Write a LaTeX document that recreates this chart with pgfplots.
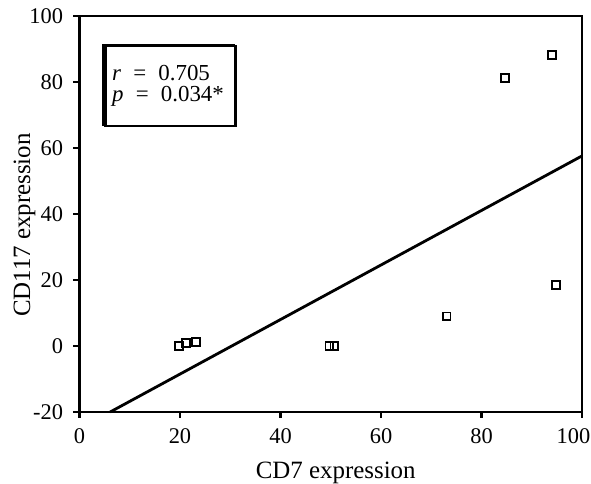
\documentclass[border=0pt]{standalone}
\usepackage{pgfplots}
\pgfplotsset{compat=1.18}
\usepackage{fontspec}
\setmainfont{Liberation Serif}
\begin{document}
\begin{tikzpicture}
\begin{axis}[
  scale only axis,
  width=502.5bp, height=396bp,
  xmin=0, xmax=100, ymin=-20, ymax=100,
  xtick={0,20,...,100}, ytick={-20,0,...,100},
  xticklabels={0,20,40,60,80,\hspace*{-17bp}100},
  xtick pos=bottom, ytick pos=left,
  tick align=outside, major tick length=6bp,
  axis line style={line width=2.2bp},
  every tick/.style={line width=2.2bp, black},
  tick label style={font=\fontsize{22.5}{24}\selectfont},
  label style={font=\fontsize{25}{27}\selectfont},
  /pgf/number format/assume math mode=true,
  xlabel={CD7 expression}, ylabel={CD117 expression},
  xlabel style={at={(axis description cs:0.510,-0.1667)}, anchor=base, inner sep=0pt},
  ylabel style={at={(axis description cs:-0.0985,0.472)}, anchor=base, inner sep=0pt},
  xticklabel style={yshift=-7bp},
  yticklabel style={xshift=-7bp},
  clip=false,
]
\addplot[only marks, mark=square, mark size=3.8bp, mark options={line width=1.7bp, fill=white, draw=black}]
coordinates {
(19.8,0) (21.2,0.9) (23.2,1.2) (49.7,0) (50.7,0) (73.1,9.0) (84.7,81.2) (94.0,88.2) (94.8,18.5)
};
\addplot[line width=2.8bp, black] coordinates {(6.1,-20) (100,57.6)};
\draw[line width=2.2bp] (axis cs:5.17,90.91) rectangle (axis cs:31.04,66.67);
\draw[line width=4bp] (axis cs:4.88,66.67) -- (axis cs:4.88,91.06);
\draw[line width=3bp] (axis cs:4.48,91.06) -- (axis cs:31.04,91.06);
\node[anchor=base west, font=\fontsize{23}{23}\selectfont, inner sep=0pt] at (axis cs:6.47,80.6)
  {\textit{r}\hspace{0.28em} = \hspace{0.28em}0.705};
\node[anchor=base west, font=\fontsize{23}{23}\selectfont, inner sep=0pt] at (axis cs:6.47,74.2)
  {\textit{p}\hspace{0.28em} = \hspace{0.28em}0.034*};
\end{axis}
\pgfresetboundingbox
\path ([xshift=-79.5bp,yshift=-72bp]current axis.south west) rectangle ([xshift=9bp,yshift=16bp]current axis.north east);
\end{tikzpicture}
\end{document}
